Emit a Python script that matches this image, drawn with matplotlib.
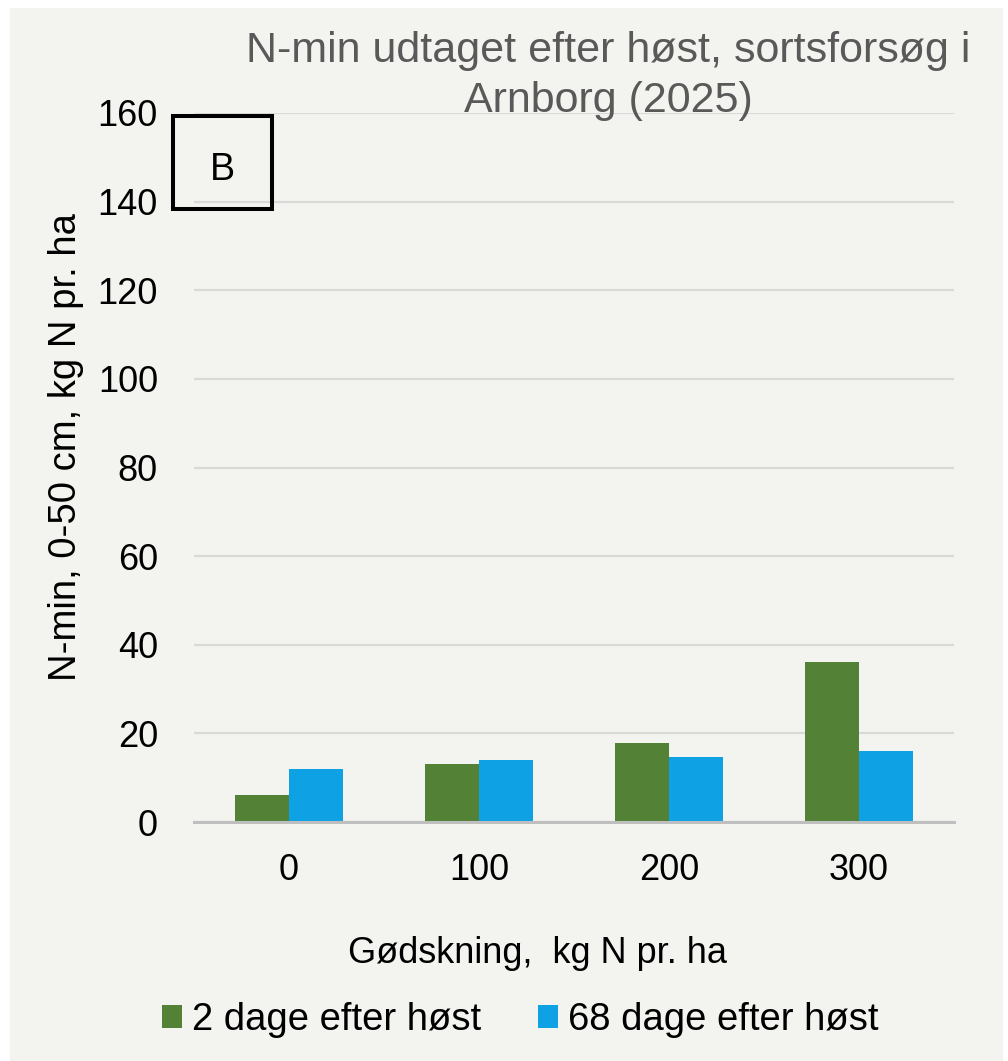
import matplotlib
matplotlib.use("Agg")
import matplotlib.pyplot as plt
from matplotlib.patches import Rectangle, Patch
import numpy as np

plt.rcParams['font.family'] = ['Liberation Sans', 'DejaVu Sans']

categories = ["0", "100", "200", "300"]
series_names = ["2 dage efter høst", "68 dage efter høst"]
vals_2d = [6, 13, 17.8, 36]
vals_68d = [12, 14.1, 14.7, 16]
yticks = [0, 20, 40, 60, 80, 100, 120, 140, 160]

GREEN = "#538135"
BLUE = "#0EA2E5"
BG = "#F3F3EF"

W, H = 1008, 1061
fig = plt.figure(figsize=(W / 100, H / 100), dpi=100, facecolor="white")
# background panel
fig.patches.append(Rectangle((10 / W, 0), (1003 - 10) / W, 1 - 8 / H,
                             transform=fig.transFigure, facecolor=BG,
                             edgecolor="none", zorder=-10))

ax = fig.add_axes([194 / W, 1 - 822 / H, 760 / W, 709 / H])
ax.set_facecolor("none")

x = np.arange(len(categories))
bw = 0.284
ax.bar(x - bw / 2, vals_2d, width=bw, color=GREEN, zorder=3)
ax.bar(x + bw / 2, vals_68d, width=bw, color=BLUE, zorder=3)

ax.set_xlim(-0.5, len(categories) - 0.5)
ax.set_ylim(0, 160)
ax.set_yticks(yticks)
ax.set_yticklabels([str(v) for v in yticks])
ax.set_xticks(x)
ax.set_xticklabels(categories)
ax.tick_params(axis="y", length=0, pad=26, labelsize=26)
ax.tick_params(axis="x", length=0, pad=22, labelsize=26)
for s in ["top", "right", "left"]:
    ax.spines[s].set_visible(False)
ax.spines["bottom"].set_color("#BFBFBF")
ax.spines["bottom"].set_linewidth(2.2)
ax.spines["bottom"].set_zorder(4)
ax.yaxis.grid(True, color="#D9D9D9", linewidth=1.6, zorder=0)
ax.set_axisbelow(True)

# title
fig.text(608 / W, 1 - 62 / H, "N-min udtaget efter høst, sortsforsøg i",
         ha="center", va="baseline", fontsize=31, color="#595959")
fig.text(608 / W, 1 - 112 / H, "Arnborg (2025)",
         ha="center", va="baseline", fontsize=31, color="#595959")

# y label
fig.text(66 / W, 1 - 447 / H, "N-min, 0-50 cm, kg N pr. ha", rotation=90,
         ha="center", va="center", fontsize=27.5, color="black")
# x label
fig.text(538 / W, 1 - 963 / H, "Gødskning,  kg N pr. ha", ha="center",
         va="baseline", fontsize=26, color="black")

# B box
fig.patches.append(Rectangle((173 / W, 1 - 209 / H), 99 / W, 93 / H,
                             transform=fig.transFigure, facecolor="none",
                             edgecolor="black", linewidth=2.9, zorder=5))
fig.text(222 / W, 1 - 170 / H, "B", ha="center", va="center", fontsize=27)

handles = [Patch(facecolor=GREEN), Patch(facecolor=BLUE)]
fig.legend(handles, series_names, loc="center", bbox_to_anchor=(520 / W, 1 - 1020 / H),
           ncol=2, frameon=False, fontsize=27.5, handlelength=0.52, handleheight=0.52,
           handletextpad=0.26, columnspacing=1.49, borderpad=0, borderaxespad=0)

fig.savefig("out.png", dpi=100, facecolor="white")
